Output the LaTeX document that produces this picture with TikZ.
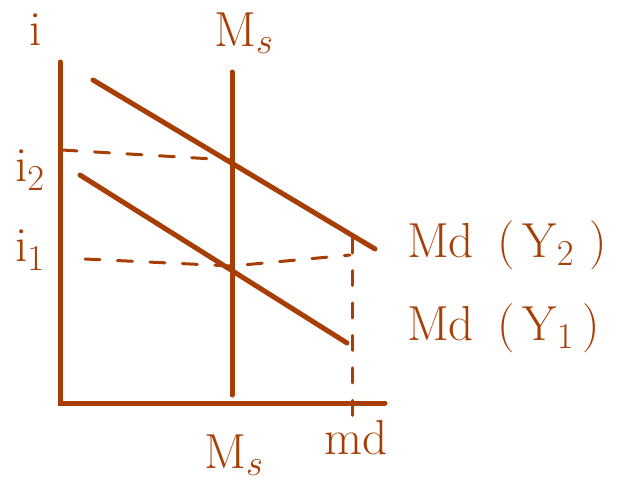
\documentclass[tikz,border=0pt]{standalone}
\usepackage{tikz}
\usetikzlibrary{positioning}
\definecolor{pen}{RGB}{166,62,6}

\begin{document}
\begin{tikzpicture}[
  x=0.02cm, y=-0.02cm,
  font=\fontsize{28}{32}\selectfont,
  every node/.style={text=pen, inner sep=1pt},
  curve/.style={draw=pen, line width=0.1cm, line cap=round},
  guide/.style={draw=pen, line width=0.06cm, line cap=round, dash pattern=on 0.3cm off 0.35cm}
]
\useasboundingbox (0,0) rectangle (617,481);

% axes and curves
\coordinate (top) at (60,62);
\coordinate (origin) at (60,403);
\coordinate (right) at (385,403);
\coordinate (ms top) at (232,72);
\coordinate (ms bot) at (232,395);
\coordinate (y2 start) at (93,80);
\coordinate (y2 end) at (375,249);
\coordinate (y1 start) at (80,175);
\coordinate (y1 end) at (347,343);

% guide points
\coordinate (i2 left) at (62,150);
\coordinate (i2 eq) at (230,160);
\coordinate (i1 left) at (85,259);
\coordinate (i1 eq) at (232,266);
\coordinate (i1 right) at (350,255);
\coordinate (md top) at (352,238);
\coordinate (md bot) at (352,425);

\draw[curve] (top) -- (origin) -- (right);
\draw[curve] (ms top) -- (ms bot);
\draw[curve] (y2 start) -- (y2 end);
\draw[curve] (y1 start) -- (y1 end);

\draw[guide] (i2 left) -- (i2 eq);
\draw[guide] (i1 left) -- (i1 eq) -- (i1 right);
\draw[guide] (md top) -- (md bot);

% labels
\node (ilab) at (36,30) {i};
\node (ms up) at (244,33) {M$_s$};
\node (i2lab) at (30,170) {i$_2$};
\node (i1lab) at (30,250) {i$_1$};
\node[anchor=west] (mdy2) at (405,245) {Md\ \,(\,Y$_2$\ )};
\node[anchor=west] (mdy1) at (405,328) {Md\ \,(\,Y$_1$\,)};
\node (ms down) at (234,455) {M$_s$};
\node (mdlab) at (356,438) {md};
\end{tikzpicture}
\end{document}
